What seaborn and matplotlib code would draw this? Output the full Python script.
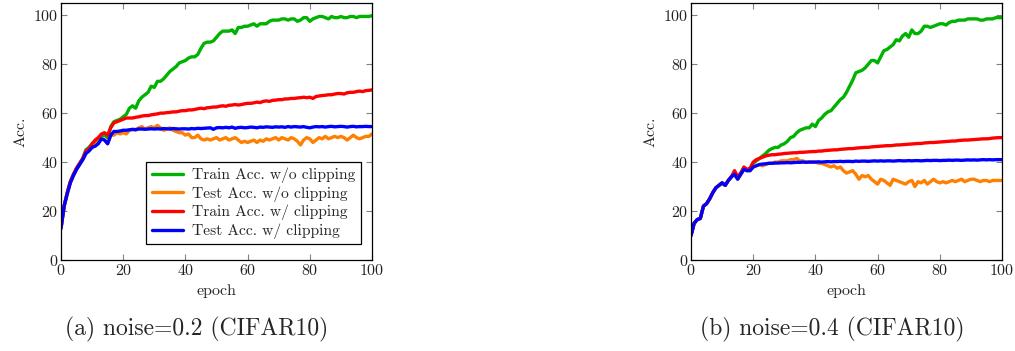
import numpy as np
import pandas as pd
import matplotlib
matplotlib.use("Agg")
import matplotlib.pyplot as plt
import seaborn as sns

epochs = list(range(101))

# noise = 0.2
train_noclip_02 = [
    13, 22, 27.5, 32, 35, 37.5, 39.5, 41.5, 45, 46, 47.5, 48.5, 49, 50.5, 51, 50, 54.5, 56.5, 57, 57.5,
    58.5, 59.5, 62, 63, 62, 65, 66.5, 67.5, 68.5, 71, 70.5, 73, 73, 74, 75.5, 77, 78, 79, 80.5, 81,
    81.5, 82.5, 83, 83, 84, 86.5, 88.5, 89, 89, 89.5, 91, 92.5, 93.5, 93.5, 93.5, 94, 92.5, 95, 95, 95.5,
    95.5, 96, 96.5, 95.5, 96.5, 96.5, 96.5, 97.5, 98, 98, 98, 98.5, 98.5, 98, 98.5, 98.5, 97.5, 98, 99, 99,
    97.5, 98.5, 99, 99.5, 99.5, 99, 98.5, 99.5, 99, 99, 99.5, 99, 99, 99.5, 99.5, 99, 99.5, 99.5, 99.5, 99.5,
    99.8,
]
test_noclip_02 = [
    13, 22, 27, 31.5, 34.5, 37, 39, 41, 43.5, 45, 46, 47, 48, 49.5, 49, 47.5, 51, 51, 52, 51.5,
    52, 51.5, 53, 53.5, 53, 54, 54.5, 53.5, 54, 54.5, 54, 55, 54, 53, 53.5, 54, 53, 52.5, 52, 52,
    51, 51.5, 50, 50, 51, 49.5, 49, 49.5, 49, 49.5, 50, 49, 49.5, 50, 49, 49.5, 50, 49, 48, 48.5,
    48, 48.5, 49, 48, 49, 48.5, 49.5, 49, 49.5, 50, 49, 50, 49.5, 49, 50, 49.5, 48.5, 47, 49, 50,
    49.5, 48, 49, 50, 49.5, 50.5, 49.5, 50, 50.5, 50, 50.5, 50, 49, 50, 51, 50, 49.5, 50, 50.5, 50.5,
    51.5,
]
train_clip_02 = [
    13, 22, 27.5, 32, 35, 37.5, 39.5, 41.5, 44.5, 45.5, 47.5, 49, 50, 51.5, 52, 51, 54, 56, 56.5, 57,
    57.5, 58, 58, 58, 58.3, 58.5, 58.8, 59, 59, 59.3, 59.5, 59.7, 60, 60, 60.2, 60.3, 60.5, 60.5, 60.8, 61,
    61, 61.3, 61.3, 61.5, 61.8, 62, 61.8, 62.2, 62.3, 62.5, 62.5, 62.8, 63, 62.8, 63.2, 63.3, 63.5, 63.3, 63.5, 63.8,
    64, 64, 64.2, 64.5, 64.3, 64.8, 65, 64.8, 65.2, 65.3, 65.5, 65.5, 65.8, 65.8, 66, 66, 66.2, 66.3, 66.5, 66.3,
    66.5, 66, 66.8, 67, 67.2, 67.3, 67.5, 67.5, 67.8, 68, 68, 67.8, 68.3, 68.5, 68.5, 68.8, 69, 68.8, 69.2, 69.3,
    69.5,
]
test_clip_02 = [
    13, 22, 27, 31.5, 34.5, 37, 39, 41, 43.5, 44.5, 46, 46.5, 47.5, 49.5, 49, 47.5, 51, 52.5, 52.5, 52.7,
    53, 53, 53.2, 53.3, 53.3, 53.5, 53.5, 53.4, 53.5, 53.6, 53.5, 53.6, 53.5, 53.7, 53.6, 53.5, 53.7, 53.6, 53.5, 53.6,
    53.6, 53.5, 53.7, 53.6, 53.8, 53.7, 53.8, 53.9, 54, 53.4, 54, 54.1, 54, 54.2, 54, 54.3, 53.8, 54.1, 54.2, 54,
    54.1, 54.3, 54.2, 54, 54.3, 54.2, 54.4, 54.3, 54.2, 54.4, 54.3, 54.4, 54.2, 54.5, 54.3, 54.5, 54.4, 54.3, 54.5, 54.2,
    54, 54.3, 54.5, 54.4, 54.5, 54.3, 54.5, 54.6, 54.4, 54.5, 54.6, 54.5, 54.3, 54.5, 54.6, 54.4, 54.5, 54.5, 54.6, 54.5,
    54.5,
]

# noise = 0.4
train_noclip_04 = [
    10, 15, 16.5, 17, 22, 23, 25, 27.5, 29.5, 30.5, 31.5, 30.5, 32.5, 34, 35.5, 33.5, 35.5, 37.5, 36.5, 37,
    39.5, 40.5, 41.5, 42.5, 43.5, 44.8, 45.5, 46, 46, 47, 47.5, 48.5, 50, 50.5, 52, 53, 53.5, 54, 54, 55.5,
    54.5, 57, 58, 59.5, 60.5, 61, 62.5, 64, 65.5, 66.5, 68.5, 71, 73.5, 76.5, 77, 77.5, 78.5, 80, 81.5, 81.5,
    80.5, 83, 85.5, 86, 87, 88, 90, 89.5, 91.5, 92.5, 91, 94, 92.5, 92.5, 93.5, 95.5, 95.5, 95, 95.5, 96,
    96.5, 96.5, 96, 97, 97.5, 97.5, 98, 98, 98, 98.5, 98.5, 98.5, 98.5, 98, 98, 98.5, 98.5, 98.5, 99, 99,
    99,
]
test_noclip_04 = [
    10, 15, 16.5, 17, 22, 23, 25, 27.5, 29.5, 30.5, 31.5, 30.5, 32.5, 34, 35, 33, 35, 37, 36.5, 36.5,
    38, 38.5, 39, 38.5, 39, 39.5, 39.5, 40, 40, 40.5, 40.5, 40.5, 41, 41, 41.5, 40.5, 40.5, 40, 40, 40,
    40, 39.5, 39.5, 39, 38.5, 38, 38.5, 37.5, 38, 36.5, 35.5, 36, 36.5, 35, 33, 34.5, 34, 34.5, 33, 32,
    31, 33, 32.5, 31.5, 30.5, 33, 32.5, 32, 31.5, 31, 32, 32.5, 30, 32, 31.5, 32.5, 31, 32, 33, 32,
    31.5, 32, 31.5, 32, 32.5, 32, 32.5, 33, 32, 32.5, 33, 33, 32.5, 32, 32.5, 32.5, 32, 32.5, 32.5, 32.5,
    32.5,
]
train_clip_04 = [
    10, 15, 16.5, 17, 22, 23, 25, 27.5, 29.5, 30.5, 31.5, 30.5, 32.5, 34, 36.5, 34, 35.5, 38, 37, 37.5,
    40, 41, 41.5, 42, 42.5, 42.8, 43, 43, 43.2, 43.3, 43.5, 43.6, 43.7, 43.8, 43.8, 44, 44, 44.1, 44.2, 44.3,
    44.3, 44.5, 44.5, 44.7, 44.8, 44.9, 45, 45, 45.2, 45.3, 45.4, 45.5, 45.5, 45.7, 45.8, 45.9, 46, 46, 46.2, 46.3,
    46.4, 46.5, 46.6, 46.7, 46.7, 46.8, 47, 47, 47.1, 47.2, 47.3, 47.4, 47.5, 47.6, 47.6, 47.8, 47.9, 48, 48, 48.1,
    48.2, 48.3, 48.4, 48.5, 48.6, 48.6, 48.8, 48.9, 49, 49, 49.1, 49.2, 49.3, 49.4, 49.5, 49.5, 49.6, 49.8, 49.9, 50,
    50,
]
test_clip_04 = [
    10, 15, 16.5, 17, 22, 23, 25, 27.5, 29.5, 30.5, 31.5, 30.5, 32.5, 34, 35, 33, 35, 37, 36.5, 36.5,
    38, 38.5, 39, 39.2, 39.3, 39.5, 39.5, 39.6, 39.6, 39.7, 39.7, 39.8, 39.7, 39.8, 39.9, 39.9, 40, 39.9, 40, 40,
    40, 40.1, 40, 40.1, 40.2, 40.1, 40.2, 40.2, 40.3, 40.2, 40.3, 40.3, 40.2, 40.4, 40.3, 40.4, 40.4, 40.3, 40.4, 40.5,
    40.4, 40.5, 40.4, 40.5, 40.5, 40.4, 40.5, 40.6, 40.5, 40.5, 40.6, 40.5, 40.6, 40.6, 40.5, 40.6, 40.7, 40.6, 40.7, 40.7,
    40.6, 40.7, 40.7, 40.8, 40.7, 40.8, 40.8, 40.7, 40.8, 40.9, 40.8, 40.9, 40.8, 40.9, 41, 40.9, 41, 40.9, 41, 41,
    41,
]

series_names = [
    "Train Acc. w/o clipping",
    "Test Acc. w/o clipping",
    "Train Acc. w/ clipping",
    "Test Acc. w/ clipping",
]
colors = ["#00b300", "#ff8000", "#ff0000", "#0000ff"]
captions = ["(a) noise=0.2 (CIFAR10)", "(b) noise=0.4 (CIFAR10)"]

panels = [
    [train_noclip_02, test_noclip_02, train_clip_02, test_clip_02],
    [train_noclip_04, test_noclip_04, train_clip_04, test_clip_04],
]


def make_frame(values):
    rows = []
    for name, vals in zip(series_names, values):
        rows.append(pd.DataFrame({"epoch": epochs, "acc": vals, "series": name}))
    return pd.concat(rows, ignore_index=True)


sns.set_theme(style="ticks")
plt.rcParams["font.family"] = ["cmr10", "DejaVu Serif"]
plt.rcParams["mathtext.fontset"] = "cm"
plt.rcParams["axes.formatter.use_mathtext"] = True

fig = plt.figure(figsize=(10.15, 3.51), dpi=100)
axes_pos = [[0.0601, 0.2593, 0.3064, 0.7322], [0.6808, 0.2593, 0.3064, 0.7322]]
caption_x = [0.194, 0.820]

for i, values in enumerate(panels):
    ax = fig.add_axes(axes_pos[i])
    df = make_frame(values)
    sns.lineplot(data=df, x="epoch", y="acc", hue="series", hue_order=series_names,
                 palette=colors, linewidth=2.4, ax=ax, legend=(i == 0))
    ax.set_xlim(0, 100)
    ax.set_ylim(0, 105)
    ax.set_xticks([0, 20, 40, 60, 80, 100])
    ax.set_yticks([0, 20, 40, 60, 80, 100])
    ax.tick_params(direction="in", length=4, width=0.8, color="#808080",
                   top=True, right=True, labelsize=11.5, pad=2, labelcolor="#222222")
    for sp in ax.spines.values():
        sp.set_color("black")
        sp.set_linewidth(0.9)
    ax.set_xlabel("epoch", fontsize=11.5, labelpad=5)
    ax.set_ylabel("Acc.", fontsize=11.5, labelpad=4)
    if i == 0:
        leg = ax.legend(loc="lower right", bbox_to_anchor=(0.99, 0.03), fontsize=11.2,
                        frameon=True, fancybox=False, edgecolor="black", framealpha=1,
                        handlelength=2.0, labelspacing=0.2, borderpad=0.35, handletextpad=0.6)
        leg.get_frame().set_linewidth(0.9)
        for h in leg.get_lines():
            h.set_linewidth(2.4)
    fig.text(caption_x[i], 0.06, captions[i], ha="center", va="center", fontsize=17)

fig.savefig("out.png", dpi=100)
